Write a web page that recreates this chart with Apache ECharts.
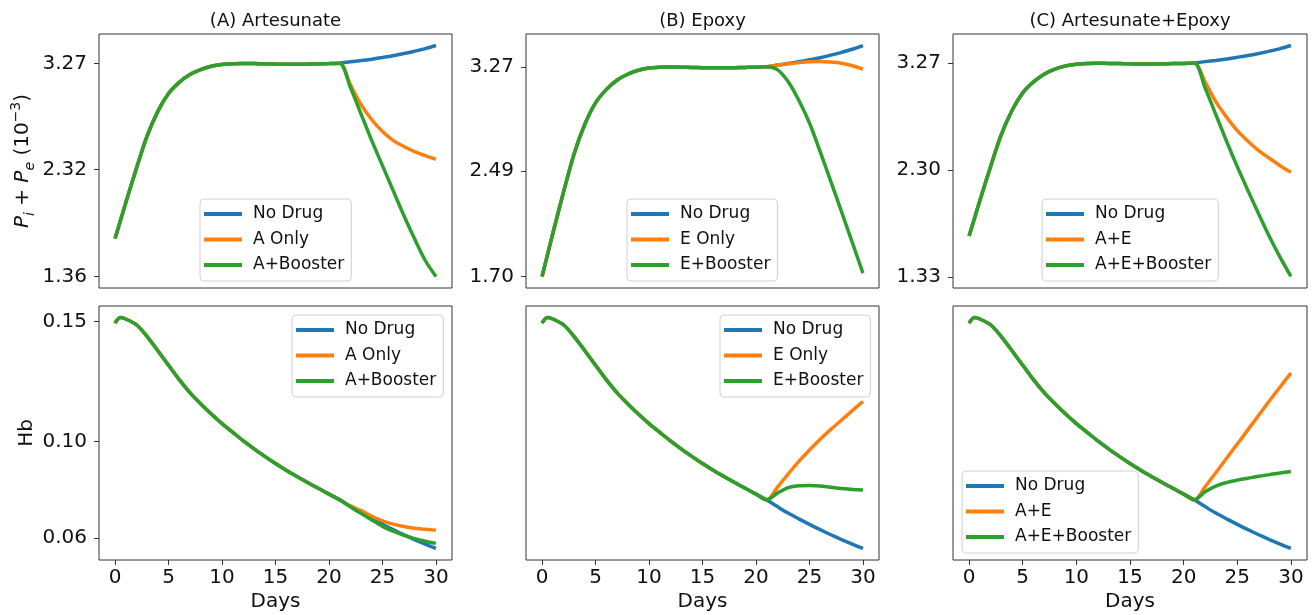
<!DOCTYPE html>
<html>
<head>
<meta charset="utf-8">
<script src="https://cdn.jsdelivr.net/npm/echarts@6/dist/echarts.min.js"></script>
<style>
html, body { margin: 0; padding: 0; background: #fff; }
#chart { width: 1314px; height: 615px; }
</style>
</head>
<body>
<div id="chart"></div>
<script>
// time points (days)
var days = [0, 0.5, 1, 2, 3, 4, 5, 6, 7, 8, 9, 10, 11, 12, 13, 14, 15, 16, 17, 18, 19, 20, 21,
            22, 23, 24, 25, 26, 27, 28, 29, 30];

// Pi+Pe (10^-3), common part up to day 21
var parasiteBase = [1.70, 1.86, 2.02, 2.33, 2.62, 2.84, 3.00, 3.10, 3.17, 3.215, 3.245, 3.261, 3.267,
                    3.269, 3.268, 3.266, 3.264, 3.263, 3.263, 3.264, 3.266, 3.268, 3.272];
// days 22..30
var parasiteNoDrug = [3.284, 3.295, 3.308, 3.323, 3.339, 3.358, 3.379, 3.402, 3.430];
var parasiteAOnly = [3.080, 2.900, 2.765, 2.660, 2.580, 2.525, 2.480, 2.443, 2.410];
var parasiteABoost = [3.055, 2.816, 2.577, 2.353, 2.129, 1.906, 1.697, 1.503, 1.360];
var parasiteEOnly = [3.283, 3.293, 3.302, 3.308, 3.310, 3.306, 3.297, 3.279, 3.253];
var parasiteEBoost = [3.250, 3.160, 3.020, 2.850, 2.635, 2.410, 2.185, 1.955, 1.725];
var parasiteAE = [3.100, 2.920, 2.780, 2.657, 2.561, 2.475, 2.406, 2.339, 2.279];
var parasiteAEBoost = [3.045, 2.803, 2.561, 2.330, 2.112, 1.900, 1.694, 1.506, 1.333];

// Hb, common part up to day 21
var hbBase = [0.1493, 0.1516, 0.1510, 0.1486, 0.1437, 0.1378, 0.1318, 0.1258, 0.1204, 0.1158, 0.1115,
              0.1075, 0.1039, 0.1003, 0.0970, 0.0939, 0.0909, 0.0881, 0.0855, 0.0830, 0.0806, 0.0782, 0.0758];
// days 22..30
var hbNoDrug = [0.0730, 0.0703, 0.0679, 0.0656, 0.0634, 0.0613, 0.0593, 0.0574, 0.0556];
var hbAOnly = [0.0733, 0.0713, 0.0690, 0.0671, 0.0657, 0.0647, 0.0640, 0.0636, 0.0632];
var hbABoost = [0.0729, 0.0702, 0.0674, 0.0648, 0.0628, 0.0611, 0.0597, 0.0586, 0.0577];
var hbEOnly = [0.0810, 0.0865, 0.0918, 0.0965, 0.1010, 0.1051, 0.1090, 0.1129, 0.1167];
var hbEBoost = [0.0786, 0.0809, 0.0817, 0.0818, 0.0816, 0.0810, 0.0805, 0.0801, 0.0799];
var hbAE = [0.0812, 0.0871, 0.0931, 0.0990, 0.1050, 0.1110, 0.1170, 0.1228, 0.1285];
var hbAEBoost = [0.0792, 0.0815, 0.0830, 0.0840, 0.0848, 0.0856, 0.0863, 0.0870, 0.0876];

var titles = ['(A) Artesunate', '(B) Epoxy', '(C) Artesunate+Epoxy'];
var seriesNames = [
    ['No Drug', 'A Only', 'A+Booster'],
    ['No Drug', 'E Only', 'E+Booster'],
    ['No Drug', 'A+E', 'A+E+Booster']
];
var topTicks = [[1.36, 2.32, 3.27], [1.70, 2.49, 3.27], [1.33, 2.30, 3.27]];
var hbTicks = [0.06, 0.10, 0.15];
var dayTicks = [0, 5, 10, 15, 20, 25, 30];

var colors = ['#1f77b4', '#ff7f0e', '#2ca02c'];
var FONT = 'DejaVu Sans';

var topData = [
    [parasiteNoDrug, parasiteAOnly, parasiteABoost],
    [parasiteNoDrug, parasiteEOnly, parasiteEBoost],
    [parasiteNoDrug, parasiteAE, parasiteAEBoost]
].map(function (set) {
    return set.map(function (t) { return parasiteBase.concat(t); });
});
var bottomData = [
    [hbNoDrug, hbAOnly, hbABoost],
    [hbNoDrug, hbEOnly, hbEBoost],
    [hbNoDrug, hbAE, hbAEBoost]
].map(function (set) {
    return set.map(function (t) { return hbBase.concat(t); });
});

function pts(vals) {
    return vals.map(function (v, i) { return [days[i], v]; });
}
function padRange(list) {
    var all = [].concat.apply([], list);
    var mn = Math.min.apply(null, all), mx = Math.max.apply(null, all);
    var p = (mx - mn) * 0.05;
    return [mn - p, mx + p];
}

var gridLeft = [99, 526, 953];
var gridWidth = [353, 353, 354];
var rowTop = [34, 306];
var rowHeight = 254;

// legend boxes [left, top] for top row then bottom row
var legendPos = [[200, 199], [627, 199], [1042, 199], [292, 315], [720, 315], [962, 471]];

var grids = [], xAxes = [], yAxes = [], series = [], legends = [], titleList = [];

for (var r = 0; r < 2; r++) {
    for (var c = 0; c < 3; c++) {
        var g = r * 3 + c;
        var data = r === 0 ? topData[c] : bottomData[c];
        var range = padRange(data);
        grids.push({
            left: gridLeft[c], top: rowTop[r], width: gridWidth[c], height: rowHeight,
            show: true, borderColor: '#333', borderWidth: 1, backgroundColor: 'transparent'
        });
        xAxes.push({
            type: 'value', gridIndex: g, min: -1.5, max: 31.5,
            axisLine: { show: false, onZero: false },
            splitLine: { show: false },
            axisTick: { show: r === 1, length: 5, customValues: dayTicks, lineStyle: { color: '#333', width: 1 } },
            axisLabel: { show: r === 1, customValues: dayTicks, margin: 8, fontSize: 20, color: '#111', fontFamily: FONT },
            name: r === 1 ? 'Days' : '', nameLocation: 'middle', nameGap: 32,
            nameTextStyle: { fontSize: 20, color: '#111', fontFamily: FONT }
        });
        var ticks = r === 0 ? topTicks[c] : hbTicks;
        var showY = r === 0 || c === 0;
        var yName = '';
        if (c === 0) {
            yName = r === 0 ? '{it|P}{sub|i}{n| + }{it|P}{sub|e}{n| (10}{sup|\u22123}{n|)}' : 'Hb';
        }
        yAxes.push({
            type: 'value', gridIndex: g, min: range[0], max: range[1],
            axisLine: { show: false, onZero: false },
            splitLine: { show: false },
            axisTick: { show: showY, length: 5, customValues: ticks, lineStyle: { color: '#333', width: 1 } },
            axisLabel: {
                show: showY, customValues: ticks, margin: 12, fontSize: 20, color: '#111', fontFamily: FONT,
                formatter: function (v) { return v.toFixed(2); }
            },
            name: yName, nameLocation: 'middle', nameGap: 62, nameRotate: 90,
            nameTextStyle: {
                fontSize: 20, color: '#111', fontFamily: FONT,
                rich: {
                    it: { fontSize: 20, fontStyle: 'italic', lineHeight: 28, fontFamily: FONT, color: '#111' },
                    n: { fontSize: 20, lineHeight: 28, fontFamily: FONT, color: '#111' },
                    sub: { fontSize: 14, fontStyle: 'italic', lineHeight: 13, verticalAlign: 'bottom', fontFamily: FONT, color: '#111' },
                    sup: { fontSize: 14, lineHeight: 13, verticalAlign: 'top', fontFamily: FONT, color: '#111' }
                }
            }
        });
        for (var s = 0; s < 3; s++) {
            series.push({
                name: seriesNames[c][s], type: 'line',
                xAxisIndex: g, yAxisIndex: g,
                data: pts(data[s]),
                symbol: 'none', smooth: 0.3,
                color: colors[s],
                lineStyle: { width: 3.5, color: colors[s] },
                z: 2 + s
            });
        }
        legends.push({
            data: seriesNames[c],
            orient: 'vertical',
            left: legendPos[g][0], top: legendPos[g][1],
            padding: [5, 7, 6, 4],
            itemGap: 5.5,
            icon: 'rect', itemWidth: 38, itemHeight: 4,
            backgroundColor: 'rgba(255,255,255,0.8)',
            borderColor: '#d0d0d0', borderWidth: 1, borderRadius: 4,
            selectedMode: false,
            textStyle: { fontSize: 17, color: '#111', fontFamily: FONT, lineHeight: 20, padding: [0, 0, 0, 6] }
        });
        if (r === 0) {
            titleList.push({
                text: titles[c],
                left: gridLeft[c] + gridWidth[c] / 2, top: 12, textAlign: 'center', padding: 0,
                textStyle: { fontSize: 18, fontWeight: 'normal', color: '#111', fontFamily: FONT }
            });
        }
    }
}

var myChart = echarts.init(document.getElementById('chart'));
myChart.setOption({
    animation: false,
    title: titleList,
    grid: grids,
    xAxis: xAxes,
    yAxis: yAxes,
    legend: legends,
    series: series
});

window.onresize = function () {
    myChart.resize();
};
</script>
</body>
</html>
